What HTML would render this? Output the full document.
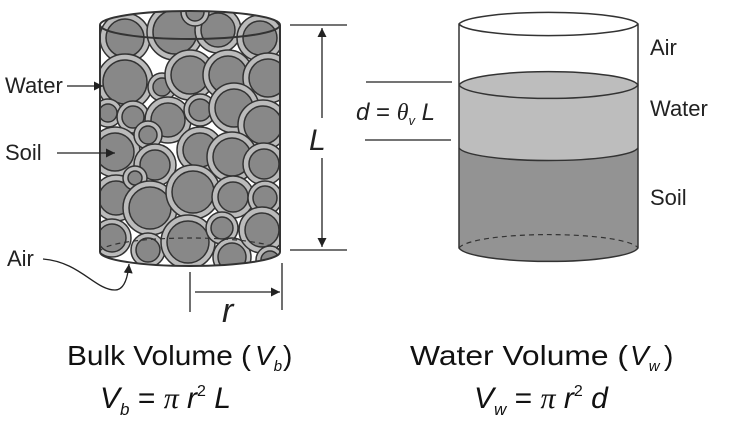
<!DOCTYPE html>
<html><head><meta charset="utf-8"><style>
html,body{margin:0;padding:0;background:#fff;width:730px;height:425px;overflow:hidden}
text{font-family:"Liberation Sans",sans-serif}
</style></head><body>
<svg width="730" height="425" viewBox="0 0 730 425" xmlns="http://www.w3.org/2000/svg">
<defs>
<clipPath id="cyl"><path d="M100 25 A90 14 0 0 1 280 25 L280 252 A90 14 0 0 1 100 252 Z"/></clipPath>
<marker id="ah" viewBox="0 0 10 10" refX="10" refY="5" markerWidth="7" markerHeight="7" orient="auto-start-reverse"><path d="M0 0 L10 5 L0 10 Z" fill="#222"/></marker>
</defs>
<g clip-path="url(#cyl)">
<rect x="95" y="5" width="190" height="270" fill="#fff"/>
<g stroke="#333" stroke-width="1.5">
<circle cx="125" cy="38" r="25" fill="#bbb"/><circle cx="125" cy="38" r="19" fill="#888"/>
<circle cx="175" cy="32" r="28" fill="#bbb"/><circle cx="175" cy="32" r="22" fill="#888"/>
<circle cx="218" cy="30" r="23" fill="#bbb"/><circle cx="218" cy="30" r="17" fill="#888"/>
<circle cx="195" cy="12" r="14" fill="#bbb"/><circle cx="195" cy="12" r="9" fill="#888"/>
<circle cx="260" cy="38" r="23" fill="#bbb"/><circle cx="260" cy="38" r="17" fill="#888"/>
<circle cx="125" cy="82" r="28" fill="#bbb"/><circle cx="125" cy="82" r="22" fill="#888"/>
<circle cx="162" cy="87" r="14" fill="#bbb"/><circle cx="162" cy="87" r="9" fill="#888"/>
<circle cx="190" cy="75" r="25" fill="#bbb"/><circle cx="190" cy="75" r="19" fill="#888"/>
<circle cx="228" cy="75" r="25" fill="#bbb"/><circle cx="228" cy="75" r="19" fill="#888"/>
<circle cx="268" cy="78" r="25" fill="#bbb"/><circle cx="268" cy="78" r="19" fill="#888"/>
<circle cx="108" cy="113" r="14" fill="#bbb"/><circle cx="108" cy="113" r="9" fill="#888"/>
<circle cx="133" cy="117" r="16" fill="#bbb"/><circle cx="133" cy="117" r="11" fill="#888"/>
<circle cx="168" cy="120" r="23" fill="#bbb"/><circle cx="168" cy="120" r="17" fill="#888"/>
<circle cx="200" cy="110" r="16" fill="#bbb"/><circle cx="200" cy="110" r="11" fill="#888"/>
<circle cx="234" cy="108" r="25" fill="#bbb"/><circle cx="234" cy="108" r="19" fill="#888"/>
<circle cx="263" cy="125" r="25" fill="#bbb"/><circle cx="263" cy="125" r="19" fill="#888"/>
<circle cx="115" cy="152" r="25" fill="#bbb"/><circle cx="115" cy="152" r="19" fill="#888"/>
<circle cx="148" cy="135" r="14" fill="#bbb"/><circle cx="148" cy="135" r="9" fill="#888"/>
<circle cx="155" cy="165" r="21" fill="#bbb"/><circle cx="155" cy="165" r="15" fill="#888"/>
<circle cx="200" cy="150" r="23" fill="#bbb"/><circle cx="200" cy="150" r="17" fill="#888"/>
<circle cx="232" cy="157" r="25" fill="#bbb"/><circle cx="232" cy="157" r="19" fill="#888"/>
<circle cx="264" cy="164" r="21" fill="#bbb"/><circle cx="264" cy="164" r="15" fill="#888"/>
<circle cx="116" cy="198" r="23" fill="#bbb"/><circle cx="116" cy="198" r="17" fill="#888"/>
<circle cx="135" cy="178" r="12" fill="#bbb"/><circle cx="135" cy="178" r="7" fill="#888"/>
<circle cx="150" cy="208" r="27" fill="#bbb"/><circle cx="150" cy="208" r="21" fill="#888"/>
<circle cx="193" cy="192" r="27" fill="#bbb"/><circle cx="193" cy="192" r="21" fill="#888"/>
<circle cx="233" cy="197" r="21" fill="#bbb"/><circle cx="233" cy="197" r="15" fill="#888"/>
<circle cx="265" cy="198" r="17" fill="#bbb"/><circle cx="265" cy="198" r="12" fill="#888"/>
<circle cx="112" cy="238" r="19" fill="#bbb"/><circle cx="112" cy="238" r="14" fill="#888"/>
<circle cx="148" cy="250" r="17" fill="#bbb"/><circle cx="148" cy="250" r="12" fill="#888"/>
<circle cx="188" cy="242" r="27" fill="#bbb"/><circle cx="188" cy="242" r="21" fill="#888"/>
<circle cx="222" cy="228" r="16" fill="#bbb"/><circle cx="222" cy="228" r="11" fill="#888"/>
<circle cx="232" cy="257" r="19" fill="#bbb"/><circle cx="232" cy="257" r="14" fill="#888"/>
<circle cx="262" cy="230" r="23" fill="#bbb"/><circle cx="262" cy="230" r="17" fill="#888"/>
<circle cx="270" cy="260" r="14" fill="#bbb"/><circle cx="270" cy="260" r="9" fill="#888"/>
</g>
</g>
<path d="M100 25 A90 14 0 0 1 280 25 A90 14 0 0 1 100 25 Z M100 25 L100 252 A90 14 0 0 0 280 252 L280 25" fill="none" stroke="#333" stroke-width="2"/>
<path d="M100 252 A90 14 0 0 1 280 252" fill="none" stroke="#333" stroke-width="1.2" stroke-dasharray="5 4"/>
<text x="5" y="93" font-size="22" fill="#222">Water</text>
<line x1="67" y1="86" x2="103" y2="86" stroke="#222" stroke-width="1.3" marker-end="url(#ah)"/>
<text x="5" y="160" font-size="22" fill="#222">Soil</text>
<line x1="57" y1="153" x2="115" y2="153" stroke="#222" stroke-width="1.3" marker-end="url(#ah)"/>
<text x="7" y="266" font-size="22" fill="#222">Air</text>
<path d="M43 259 C80 262 95 290 115 290 C125 290 128 275 129 264" fill="none" stroke="#222" stroke-width="1.3" marker-end="url(#ah)"/>
<line x1="290" y1="25" x2="347" y2="25" stroke="#222" stroke-width="1.3"/>
<line x1="290" y1="250" x2="347" y2="250" stroke="#222" stroke-width="1.3"/>
<line x1="322" y1="28" x2="322" y2="247" stroke="#222" stroke-width="1.3" marker-start="url(#ah)" marker-end="url(#ah)"/>
<rect x="308" y="118" width="28" height="40" fill="#fff"/>
<text x="309" y="150" font-size="30" font-style="italic" fill="#222">L</text>
<line x1="190" y1="272" x2="190" y2="312" stroke="#222" stroke-width="1.3"/>
<line x1="282" y1="263" x2="282" y2="310" stroke="#222" stroke-width="1.3"/>
<line x1="195" y1="292" x2="280" y2="292" stroke="#222" stroke-width="1.3" marker-end="url(#ah)"/>
<text x="222" y="322" font-size="34" font-style="italic" fill="#222">r</text>
<path d="M459 85 A90 15 0 0 1 638 85 L638 248 A90 15 0 0 1 459 248 Z" fill="#bdbdbd"/>
<path d="M459 148 A90 14 0 0 0 638 148 L638 248 A90 15 0 0 1 459 248 Z" fill="#939393"/>
<path d="M459 85 A90 15 0 0 1 638 85 A90 15 0 0 1 459 85" fill="none" stroke="#333" stroke-width="1.5"/>
<path d="M459 148 A90 14 0 0 0 638 148" fill="none" stroke="#333" stroke-width="1.5"/>
<path d="M459 248 A90 15 0 0 1 638 248" fill="none" stroke="#333" stroke-width="1.2" stroke-dasharray="5 4"/>
<path d="M459 24 A90 13 0 0 1 638 24 A90 13 0 0 1 459 24 Z M459 24 L459 248 A90 15 0 0 0 638 248 L638 24" fill="none" stroke="#333" stroke-width="1.5"/>
<text x="650" y="55" font-size="22" fill="#222">Air</text>
<text x="650" y="116" font-size="22" fill="#222">Water</text>
<text x="650" y="205" font-size="22" fill="#222">Soil</text>
<line x1="366" y1="82" x2="452" y2="82" stroke="#222" stroke-width="1.2"/>
<line x1="365" y1="140" x2="451" y2="140" stroke="#222" stroke-width="1.2"/>
<text x="356" y="120" font-size="24" fill="#222"><tspan font-style="italic">d</tspan> = <tspan font-family="Liberation Serif" font-style="italic">θ</tspan><tspan font-size="13" dy="5" font-style="italic">v</tspan><tspan dy="-5" font-style="italic"> L</tspan></text>
<text x="67" y="365" font-size="28" fill="#111" textLength="184" lengthAdjust="spacingAndGlyphs">Bulk Volume (</text>
<text x="255" y="365" font-size="28" font-style="italic" fill="#111">V<tspan font-size="15" dy="6">b</tspan></text>
<text x="283" y="365" font-size="28" fill="#111">)</text>
<text x="410" y="365" font-size="28" fill="#111" textLength="218" lengthAdjust="spacingAndGlyphs">Water Volume (</text>
<text x="630" y="365" font-size="28" font-style="italic" fill="#111">V<tspan font-size="15" dy="6">w</tspan></text>
<text x="664" y="365" font-size="28" fill="#111">)</text>
<text x="100" y="408" font-size="30" fill="#111"><tspan font-style="italic">V</tspan><tspan font-size="17" dy="7" font-style="italic">b</tspan><tspan dy="-7"> = </tspan><tspan font-family="Liberation Serif" font-style="italic">π</tspan><tspan font-style="italic"> r</tspan><tspan font-size="16" dy="-12">2</tspan><tspan dy="12" font-style="italic"> L</tspan></text>
<text x="474" y="408" font-size="30" fill="#111"><tspan font-style="italic">V</tspan><tspan font-size="17" dy="7" font-style="italic">w</tspan><tspan dy="-7"> = </tspan><tspan font-family="Liberation Serif" font-style="italic">π</tspan><tspan font-style="italic"> r</tspan><tspan font-size="16" dy="-12">2</tspan><tspan dy="12" font-style="italic"> d</tspan></text>
</svg>
</body></html>
